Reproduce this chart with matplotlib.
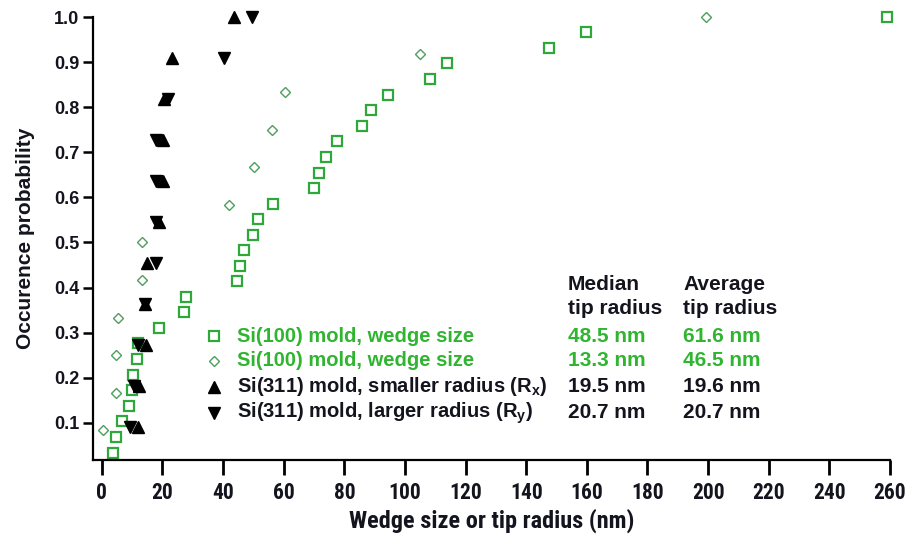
import matplotlib
matplotlib.use("Agg")
import matplotlib.pyplot as plt
from matplotlib.lines import Line2D

# ---------------- data ----------------
sq_x = [3.7, 4.7, 6.8, 9.1, 9.9, 10.4, 11.5, 11.9, 19.0, 27.2, 27.8, 44.5, 45.6, 46.9,
        50.0, 51.6, 56.4, 70.0, 71.7, 74.0, 77.7, 85.9, 88.9, 94.5, 108.3, 113.8,
        147.6, 159.7, 258.9]
sq_y = [0.034, 0.069, 0.103, 0.138, 0.172, 0.207, 0.241, 0.276, 0.310, 0.345, 0.379,
        0.414, 0.448, 0.483, 0.517, 0.552, 0.586, 0.621, 0.655, 0.690, 0.724, 0.759,
        0.793, 0.828, 0.862, 0.897, 0.931, 0.966, 1.000]

dm_x = [0.3, 4.7, 4.7, 5.5, 13.4, 13.4, 42.1, 50.1, 56.2, 60.5, 105.1, 199.3]
dm_y = [0.083, 0.167, 0.250, 0.333, 0.417, 0.500, 0.583, 0.667, 0.750, 0.833, 0.917, 1.000]

rx_x = [12.0, 12.3, 14.6, 14.1, 15.0, 18.8, 20.2, 20.2, 20.5, 23.1, 43.7]
ry_x = [9.3, 10.7, 12.0, 14.1, 18.0, 18.0, 18.0, 18.0, 21.9, 40.4, 49.7]
r_y = [0.091, 0.182, 0.273, 0.364, 0.455, 0.545, 0.636, 0.727, 0.818, 0.909, 1.000]

legend_labels = ["Si(100) mold, wedge size", "Si(100) mold, wedge size",
                 "Si(311) mold, smaller radius (R$_\\mathregular{x}$)",
                 "Si(311) mold, larger radius (R$_\\mathregular{y}$)"]
median_vals = ["48.5 nm", "13.3 nm", "19.5 nm", "20.7 nm"]
average_vals = ["61.6 nm", "46.5 nm", "19.6 nm", "20.7 nm"]

x_ticks = list(range(0, 261, 20))
y_ticks = [0.1, 0.2, 0.3, 0.4, 0.5, 0.6, 0.7, 0.8, 0.9, 1.0]

# ---------------- style ----------------
GREEN = "#2fb52f"
SQ_EDGE = "#2ea83a"
DM_EDGE = "#4e9e5c"
DARK = "#14141e"
W, H = 907, 535

narrow = ["Roboto Condensed", "PT Sans Narrow", "Liberation Sans", "DejaVu Sans"]
plt.rcParams["font.family"] = ["Liberation Sans", "DejaVu Sans"]

fig = plt.figure(figsize=(W / 100, H / 100), dpi=100)
ax = fig.add_axes([92.7 / W, 1 - 460 / H, (890 - 92.7) / W, (460 - 17) / H])

ax.plot(sq_x, sq_y, ls="none", marker="s", ms=7.6, mfc="white", mec=SQ_EDGE, mew=1.6, clip_on=False)
ax.plot(dm_x, dm_y, ls="none", marker="D", ms=5.0, mfc="white", mec=DM_EDGE, mew=1.0, clip_on=False)
ax.plot(rx_x, r_y, ls="none", marker="^", ms=8.3, color="black", clip_on=False)
ax.plot(ry_x, r_y, ls="none", marker="v", ms=8.3, color="black", clip_on=False)

ax.set_xlim(-3, 260)
ax.set_ylim(0.0175, 1.0)
ax.set_xticks(x_ticks)
ax.set_xticklabels([str(v) for v in x_ticks], family=narrow, fontweight="bold",
                   fontsize=15.5, color=DARK)
ax.set_yticks(y_ticks)
ax.set_yticklabels([f"{v:.1f}" for v in y_ticks], fontweight="bold", fontsize=13,
                   color=DARK)

for s in ["top", "right"]:
    ax.spines[s].set_visible(False)
for s in ["left", "bottom"]:
    ax.spines[s].set_linewidth(1.6)
ax.tick_params(axis="x", direction="out", length=10.5, width=2.0, pad=5)
ax.tick_params(axis="y", direction="out", length=7.5, width=1.8, pad=2)

ax.set_xlabel("Wedge size or tip radius (nm)", family=narrow, fontweight="bold",
              fontsize=17.5, color=DARK, labelpad=4)
ax.set_ylabel("Occurence probability", fontweight="bold", fontsize=15, color=DARK,
              labelpad=14)

# ---------------- legend / table ----------------
def fx(px):
    return px / W

def fy(py):
    return 1 - py / H

fs = 15
fig.text(fx(568), fy(284), "Median", fontsize=fs, fontweight="bold", color=DARK, va="center")
fig.text(fx(568), fy(309), "tip radius", fontsize=fs, fontweight="bold", color=DARK, va="center")
fig.text(fx(683), fy(284), "Average", fontsize=fs, fontweight="bold", color=DARK, va="center")
fig.text(fx(683), fy(309), "tip radius", fontsize=fs, fontweight="bold", color=DARK, va="center")

row_y = [336, 361, 387, 413]
markers = [dict(marker="s", ms=7.6, mfc="white", mec=SQ_EDGE, mew=1.6),
           dict(marker="D", ms=5.0, mfc="white", mec=DM_EDGE, mew=1.0),
           dict(marker="^", ms=8.3, color="black"),
           dict(marker="v", ms=8.3, color="black")]
colors = [GREEN, GREEN, DARK, DARK]
for lab, med, avg, ry, mk, c in zip(legend_labels, median_vals, average_vals,
                                     row_y, markers, colors):
    fig.add_artist(Line2D([fx(214)], [fy(ry)], ls="none", transform=fig.transFigure, **mk))
    fig.text(fx(237), fy(ry), lab, fontsize=14.5, fontweight="bold", color=c, va="center")
    fig.text(fx(568), fy(ry), med, fontsize=fs, fontweight="bold", color=c, va="center")
    fig.text(fx(683), fy(ry), avg, fontsize=fs, fontweight="bold", color=c, va="center")

fig.savefig("out.png", dpi=100)
